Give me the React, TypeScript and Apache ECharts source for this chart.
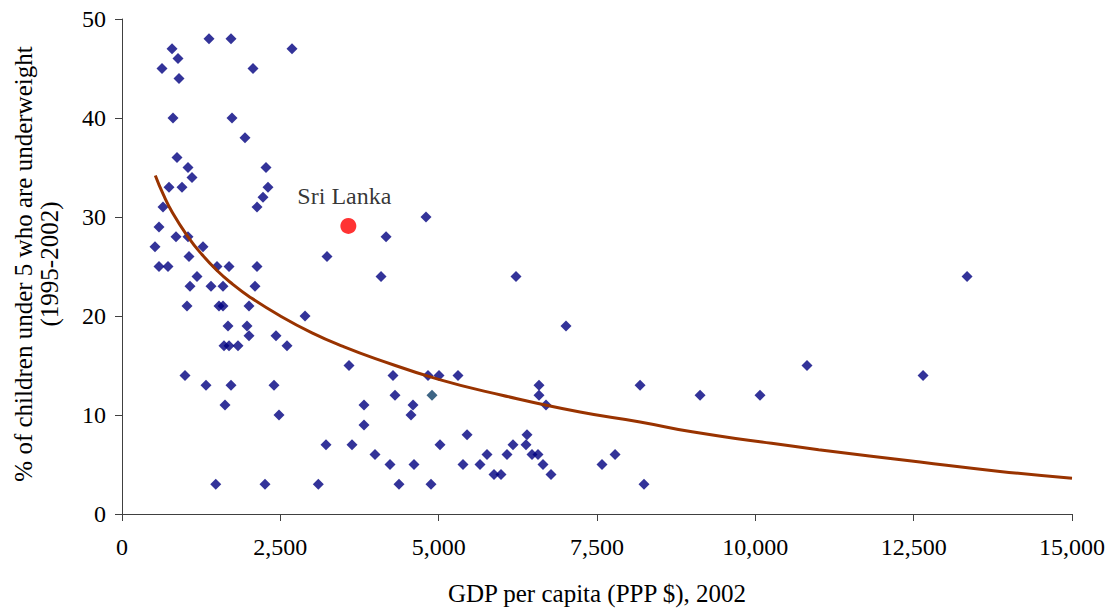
import React, { useEffect, useRef } from "react";
import * as echarts from "echarts";

const xTicks = [0, 2500, 5000, 7500, 10000, 12500, 15000];
const yTicks = [0, 10, 20, 30, 40, 50];

const gdpValues = [
  1374, 1721, 2684, 790, 884, 632, 900, 2068, 805, 1737, 1942, 868,
  1042, 1105, 742, 947, 2274, 2305, 2226, 2132, 647, 584, 853, 1042, 521, 1279, 1058, 584, 726, 1500, 1690, 2132, 1184, 1074, 1405, 1595, 2100,
  1026, 1532, 1595, 2005, 2890, 1674, 1974, 2005, 2432, 1611, 1690, 1832, 2605, 995, 1326, 1721, 2400, 1626, 2479,
  1480, 2258, 3100,
  4800, 4169, 3237, 4090, 6221, 7011,
  3584, 4279, 4832, 5005, 5305, 4311, 3821, 4595, 4563, 3821, 3221, 3632, 5021, 3995, 4232, 4611, 4374, 4879,
  6584, 6584, 6695, 5448, 6395, 6174, 6379, 5763, 6079, 6474, 6568, 5384, 5653, 6647, 5874, 5984, 6774,
  8180, 9127, 10074, 10816, 12648, 13343, 7785, 7579, 8242,
];
const underweightValues = [
  48, 48, 47, 47, 46, 45, 44, 45, 40, 40, 38, 36,
  35, 34, 33, 33, 35, 33, 32, 31, 31, 29, 28, 28, 27, 27, 26, 25, 25, 25, 25, 25, 24, 23, 23, 23, 23,
  21, 21, 21, 21, 20, 19, 19, 18, 18, 17, 17, 17, 17, 14, 13, 13, 13, 11, 10,
  3, 3, 3,
  30, 28, 26, 24, 24, 19,
  15, 14, 14, 14, 14, 12, 11, 11, 10, 9, 7, 7, 7, 6, 5, 5, 3, 3,
  13, 12, 11, 8, 8, 7, 7, 6, 6, 6, 6, 5, 5, 5, 4, 4, 4,
  13, 12, 12, 15, 14, 24, 6, 5, 3,
];
// the single point drawn in a darker teal-blue
const tealPoint = [4895, 12];

const sriLankaName = "Sri Lanka";
const sriLankaPoint = [3574, 29.1];

const trendX = [526, 650, 800, 1042, 1250, 1500, 1750, 2000, 2500, 3000, 3500, 4000, 5000, 6000, 7232, 8180, 9000, 10074, 11000, 12600, 13863, 15000];
const trendY = [34.2, 32.3, 30.4, 28, 26.3, 24.6, 23.2, 22, 20, 18.3, 16.9, 15.7, 13.6, 12, 10.3, 9.3, 8.3, 7.3, 6.5, 5.25, 4.3, 3.6];

const xTitle = "GDP per capita (PPP $), 2002";
const yTitleLine1 = "% of children under 5 who are underweight";
const yTitleLine2 = "(1995-2002)";

const FONT = "Times New Roman, Liberation Serif, serif";

export default function App() {
  const ref = useRef<HTMLDivElement>(null);
  useEffect(() => {
    if (!ref.current) return;
    const chart = echarts.init(ref.current, null, { renderer: "svg" });
    const points = gdpValues.map((x, i) => [x, underweightValues[i]]);
    const trend = trendX.map((x, i) => [x, trendY[i]]);
    chart.setOption({
      animation: false,
      backgroundColor: "#ffffff",
      textStyle: { fontFamily: FONT },
      grid: { left: 122, right: 44, top: 19, bottom: 98, containLabel: false },
      xAxis: {
        type: "value",
        min: xTicks[0],
        max: xTicks[xTicks.length - 1],
        interval: 2500,
        name: xTitle,
        nameLocation: "middle",
        nameGap: 67,
        nameTextStyle: { fontFamily: FONT, fontSize: 25, color: "#000" },
        axisLine: { show: true, onZero: false, lineStyle: { color: "#404040", width: 1 } },
        axisTick: { show: true, inside: false, length: 7, lineStyle: { color: "#404040" } },
        axisLabel: {
          fontFamily: FONT,
          fontSize: 24,
          color: "#000",
          margin: 21,
          formatter: (v: number) => v.toLocaleString("en-US"),
        },
        splitLine: { show: false },
      },
      yAxis: {
        type: "value",
        min: yTicks[0],
        max: yTicks[yTicks.length - 1],
        interval: 10,
        axisLine: { show: true, onZero: false, lineStyle: { color: "#404040", width: 1 } },
        axisTick: { show: true, inside: false, length: 7, lineStyle: { color: "#404040" } },
        axisLabel: { fontFamily: FONT, fontSize: 24, color: "#000", margin: 16 },
        splitLine: { show: false },
      },
      graphic: [
        {
          type: "text",
          x: 23,
          y: 264,
          rotation: Math.PI / 2,
          style: {
            text: yTitleLine1,
            fontFamily: FONT,
            fontSize: 25,
            fill: "#000",
            align: "center",
            verticalAlign: "middle",
          },
        },
        {
          type: "text",
          x: 49,
          y: 264,
          rotation: Math.PI / 2,
          style: {
            text: yTitleLine2,
            fontFamily: FONT,
            fontSize: 25,
            fill: "#000",
            align: "center",
            verticalAlign: "middle",
          },
        },
      ],
      series: [
        {
          type: "scatter",
          symbol: "diamond",
          symbolSize: 11,
          itemStyle: { color: "#000080" },
          data: [...points, { value: tealPoint, itemStyle: { color: "#0e3e66" } }],
          z: 3,
        },
        {
          type: "line",
          data: trend,
          smooth: true,
          showSymbol: false,
          symbol: "none",
          lineStyle: { color: "#993300", width: 3 },
          z: 4,
        },
        {
          type: "scatter",
          symbol: "circle",
          symbolSize: 16,
          itemStyle: { color: "#ff0000" },
          data: [{ value: sriLankaPoint, name: sriLankaName }],
          label: {
            show: true,
            position: "top",
            distance: 10,
            offset: [-4, 0],
            formatter: sriLankaName,
            fontFamily: FONT,
            fontSize: 24,
            color: "#000",
          },
          z: 5,
        },
      ],
    });
    return () => chart.dispose();
  }, []);
  return (
    <div
      ref={ref}
      style={{ position: "fixed", left: 0, top: 0, width: 1116, height: 612, background: "#fff" }}
    />
  );
}
